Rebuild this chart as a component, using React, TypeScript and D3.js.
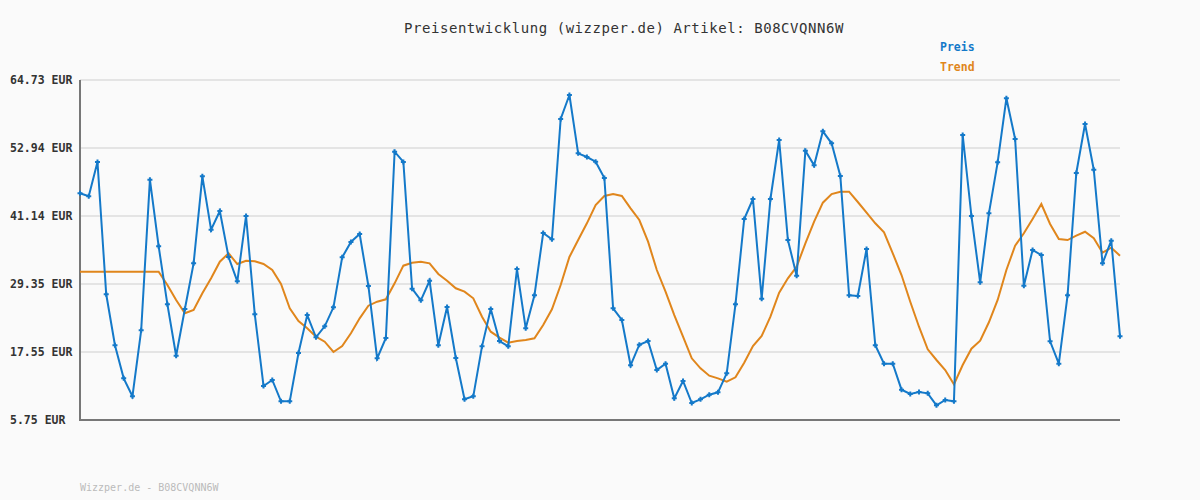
import React from "react";
import * as d3 from "d3";

const title = "Preisentwicklung (wizzper.de) Artikel: B08CVQNN6W";
const footer = "Wizzper.de - B08CVQNN6W";
const seriesNames = ["Preis", "Trend"];
const yTicks = [5.75, 17.55, 29.35, 41.14, 52.94, 64.73];

const preis = [
  45.08, 44.56, 50.51, 27.56, 18.71, 12.98, 9.86, 21.31, 47.44, 35.88,
  25.82, 16.9, 25.01, 32.93, 48.02, 38.76, 42.01, 34.03, 29.81, 41.14,
  24.09, 11.65, 12.69, 8.99, 8.99, 17.37, 23.96, 20.1, 22.0, 25.3,
  33.97, 36.63, 38.02, 29.0, 16.45, 19.98, 52.29, 50.51, 28.53, 26.51,
  29.91, 18.71, 25.35, 16.51, 9.34, 9.86, 18.53, 25.01, 19.45, 18.53,
  31.94, 21.66, 27.38, 38.19, 37.1, 57.96, 62.13, 52.01, 51.37, 50.56,
  47.73, 25.13, 23.1, 15.24, 18.81, 19.45, 14.42, 15.52, 9.51, 12.52,
  8.7, 9.34, 10.14, 10.55, 13.85, 25.82, 40.62, 44.09, 26.79, 44.09,
  54.32, 36.97, 30.78, 52.47, 49.93, 55.83, 53.75, 48.08, 27.38, 27.26,
  35.41, 18.71, 15.52, 15.52, 11.01, 10.26, 10.61, 10.38, 8.3, 9.22,
  8.99, 55.19, 41.14, 29.64, 41.61, 50.45, 61.56, 54.5, 29.05, 35.24,
  34.37, 19.4, 15.52, 27.38, 48.6, 57.1, 49.17, 32.93, 36.85, 20.27,
];

const trend = [
  31.48, 31.48, 31.48, 31.48, 31.48, 31.48, 31.48, 31.48, 31.48, 31.48,
  29.17, 26.57, 24.26, 24.83, 27.73, 30.33, 33.21, 34.67, 32.81, 33.38,
  33.28, 32.81, 31.77, 29.34, 25.13, 22.92, 21.66, 20.2, 19.33, 17.55,
  18.59, 20.79, 23.39, 25.58, 26.27, 26.69, 29.46, 32.52, 33.04, 33.21,
  32.93, 31.08, 29.91, 28.6, 28.01, 26.86, 23.67, 21.07, 20.03, 19.16,
  19.45, 19.63, 19.92, 22.23, 24.95, 29.17, 34.03, 36.97, 39.87, 43.05,
  44.61, 44.95, 44.61, 42.47, 40.44, 36.68, 31.77, 28.01, 23.96, 20.2,
  16.45, 14.72, 13.44, 12.98, 12.39, 13.16, 15.69, 18.59, 20.32, 23.67,
  27.83, 30.33, 32.34, 36.4, 40.15, 43.45, 44.95, 45.35, 45.35, 43.57,
  41.71, 39.87, 38.31, 34.67, 30.9, 26.27, 21.93, 18.01, 16.16, 14.42,
  11.94, 15.29, 18.12, 19.51, 22.7, 26.57, 31.77, 35.99, 38.14, 40.62,
  43.22, 39.75, 37.15, 36.97, 37.72, 38.41, 37.27, 34.77, 35.64, 34.25,
];

const W = 1200;
const H = 500;
const left = 80;
const right = 1120;
const top = 80;
const bottom = 420;
const blue = "#1479c9";
const orange = "#e0861c";
const mono = "'DejaVu Sans Mono', monospace";

export default function App() {
  const x = d3.scaleLinear().domain([0, preis.length - 1]).range([left, right]);
  const y = d3.scaleLinear().domain([yTicks[0], yTicks[yTicks.length - 1]]).range([bottom, top]);
  const line = d3
    .line<number>()
    .x((_, i) => x(i))
    .y((d) => y(d));

  return (
    <svg
      width={W}
      height={H}
      style={{ position: "absolute", left: 0, top: 0, background: "#fafafa" }}
    >
      <rect x={0} y={0} width={W} height={H} fill="#fafafa" />
      <text
        x={624}
        y={33}
        textAnchor="middle"
        fontFamily={mono}
        fontSize={14}
        letterSpacing={0.55}
        fill="#333"
      >
        {title}
      </text>
      <text x={940} y={51} fontFamily={mono} fontSize={11.5} fontWeight="bold" fill={blue}>
        {seriesNames[0]}
      </text>
      <text x={940} y={71} fontFamily={mono} fontSize={11.5} fontWeight="bold" fill={orange}>
        {seriesNames[1]}
      </text>
      {yTicks.map((t) => (
        <g key={t}>
          <line x1={left} x2={right} y1={y(t)} y2={y(t)} stroke="#e4e4e4" strokeWidth={2} />
          <text
            x={10}
            y={y(t)}
            dy="0.35em"
            fontFamily={mono}
            fontSize={11.5}
            fontWeight="bold"
            fill="#333"
          >
            {t.toFixed(2)} EUR
          </text>
        </g>
      ))}
      <line x1={left} x2={left} y1={top} y2={bottom + 1} stroke="#777" strokeWidth={2} />
      <line x1={left - 1} x2={right} y1={bottom} y2={bottom} stroke="#777" strokeWidth={2} />
      <path d={line(trend) || ""} fill="none" stroke={orange} strokeWidth={2} />
      <path d={line(preis) || ""} fill="none" stroke={blue} strokeWidth={2} />
      {preis.map((v, i) => (
        <path
          key={i}
          d={`M${x(i) - 2.5},${y(v)}h5M${x(i)},${y(v) - 2.5}v5`}
          stroke={blue}
          strokeWidth={2}
        />
      ))}
      <text x={80} y={491} fontFamily={mono} fontSize={10} fill="#bbb">
        {footer}
      </text>
    </svg>
  );
}
